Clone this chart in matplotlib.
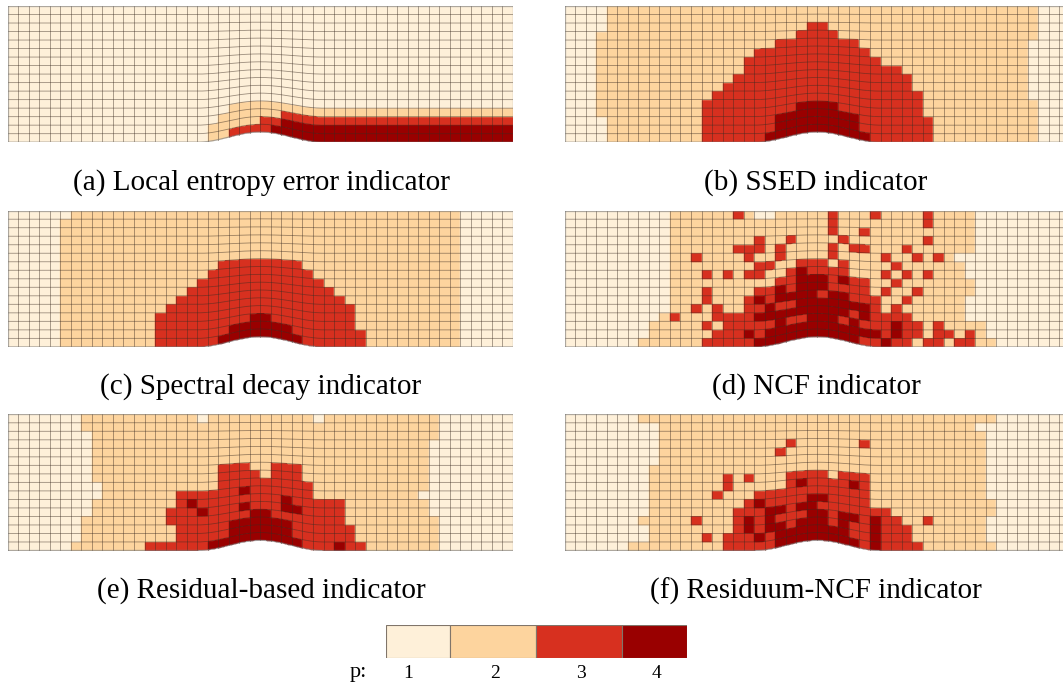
import numpy as np
import matplotlib
matplotlib.use('Agg')
import matplotlib.pyplot as plt
from matplotlib.colors import ListedColormap, BoundaryNorm

W, H = 1063, 688

# polynomial degree per cell, row 0 is the top of the channel
panel_a = [
    "111111 111111 111111 111111 111111 111111 111111 111111",
    "111111 111111 111111 111111 111111 111111 111111 111111",
    "111111 111111 111111 111111 111111 111111 111111 111111",
    "111111 111111 111111 111111 111111 111111 111111 111111",
    "111111 111111 111111 111111 111111 111111 111111 111111",
    "111111 111111 111111 111111 111111 111111 111111 111111",
    "111111 111111 111111 111111 111111 111111 111111 111111",
    "111111 111111 111111 111111 111111 111111 111111 111111",
    "111111 111111 111111 111111 111111 111111 111111 111111",
    "111111 111111 111111 111111 111111 111111 111111 111111",
    "111111 111111 111111 111111 111111 111111 111111 111111",
    "111111 111111 111111 111111 111111 111111 111111 111111",
    "111111 111111 111111 111222 222222 222222 222222 222222",
    "111111 111111 111111 112222 223333 333333 333333 333333",
    "111111 111111 111111 122222 334444 444444 444444 444444",
    "111111 111111 111111 122333 344444 444444 444444 444444",
]
panel_b = [
    "111122 222222 222222 222222 222222 222222 222222 222111",
    "111122 222222 222222 222222 222222 222222 222222 222111",
    "111122 222222 222222 222223 322222 222222 222222 222111",
    "111222 222222 222222 222233 332222 222222 222222 222111",
    "111222 222222 222222 223333 333322 222222 222222 221111",
    "111222 222222 222222 333333 333332 222222 222222 221111",
    "111222 222222 222223 333333 333333 222222 222222 221111",
    "111222 222222 222223 333333 333333 332222 222222 221111",
    "111222 222222 222233 333333 333333 333222 222222 221111",
    "111222 222222 222333 333333 333333 333222 222222 221111",
    "111222 222222 223333 333333 333333 333322 222222 221111",
    "111222 222222 233333 333333 333333 333322 222222 222111",
    "111222 222222 233333 333344 443333 333322 222222 222111",
    "111122 222222 233333 334444 444433 333332 222222 222111",
    "111122 222222 233333 334444 444433 333332 222222 222111",
    "111122 222222 233333 344444 444443 333332 222222 222111",
]
panel_c = [
    "111111 222222 222222 222222 222222 222222 222222 211111",
    "111112 222222 222222 222222 222222 222222 222222 211111",
    "111112 222222 222222 222222 222222 222222 222222 211111",
    "111112 222222 222222 222222 222222 222222 222222 211111",
    "111112 222222 222222 222222 222222 222222 222222 211111",
    "111112 222222 222222 222222 222222 222222 222222 211111",
    "111112 222222 222222 223333 333322 222222 222222 211111",
    "111112 222222 222222 233333 333332 222222 222222 211111",
    "111112 222222 222222 333333 333333 222222 222222 211111",
    "111112 222222 222223 333333 333333 322222 222222 211111",
    "111112 222222 222233 333333 333333 332222 222222 211111",
    "111112 222222 222333 333333 333333 333222 222222 211111",
    "111112 222222 223333 333333 333333 333222 222222 211111",
    "111112 222222 223333 333334 433333 333222 222222 211111",
    "111112 222222 223333 333444 444333 333322 222222 211111",
    "111112 222222 223333 334444 444433 333322 222222 211111",
]
panel_d = [
    "111111 111122 222232 112222 232223 222232 222111 111111",
    "111111 111122 222222 222222 232222 222232 222111 111111",
    "111111 111122 222222 222222 232232 222222 222111 111111",
    "111111 111122 222222 322322 223222 222232 222111 111111",
    "111111 111122 222233 323222 232332 223222 222111 111111",
    "111111 111122 322223 223222 232222 322323 211111 111111",
    "111111 111122 222222 332233 323222 232222 221111 111111",
    "111111 111122 232323 322343 333222 323232 221111 111111",
    "111111 111122 222222 223344 434332 232222 222111 111111",
    "111111 111122 232222 334344 433332 322322 222111 111111",
    "111111 111122 232223 434444 344333 223222 221111 111111",
    "111111 111122 323223 343344 444443 232222 221111 111111",
    "111111 111232 223333 444444 444343 333222 221111 111111",
    "111111 112222 232333 334334 443433 343323 222211 111111",
    "111111 112222 223334 344444 444444 343323 323211 111111",
    "111111 122222 233333 444444 444433 433233 233221 111111",
]
panel_e = [
    "111111 122222 222222 122222 222221 222222 222221 111111",
    "111111 122222 222222 222222 222222 222222 222221 111111",
    "111111 112222 222222 222222 222222 222222 222221 111111",
    "111111 112222 222222 222222 222222 222222 222211 111111",
    "111111 112222 222222 222222 222222 222222 222211 111111",
    "111111 112222 222222 222222 222222 222222 222211 111111",
    "111111 112222 222222 223332 233322 222222 222211 111111",
    "111111 112222 222222 223333 233322 222222 222211 111111",
    "111111 111222 222222 223333 333332 222222 222211 111111",
    "111111 111222 222233 333343 333332 222222 222111 111111",
    "111111 112222 222234 333333 334333 332222 222211 111111",
    "111111 112222 222333 433343 334433 332222 222211 111111",
    "111111 122222 222333 333334 433333 332222 222221 111111",
    "111111 122222 222233 333444 444333 333222 222221 111111",
    "111111 122222 222233 333444 444333 333222 222221 111111",
    "111111 222222 233333 344444 444433 343322 222221 111111",
]
panel_f = [
    "111111 122222 222222 222222 222222 222222 222221 111111",
    "111111 111222 222222 222222 222222 222222 222111 111111",
    "111111 111222 222222 222222 222222 222222 222211 111111",
    "111111 111222 222222 222322 222232 222222 222211 111111",
    "111111 111222 222222 223222 222222 222222 222211 111111",
    "111111 111222 222222 222222 222222 222222 222211 111111",
    "111111 112222 222222 222222 222222 222222 222211 111111",
    "111111 112222 222323 222333 323332 222222 222211 111111",
    "111111 112222 222322 222343 333432 222222 222211 111111",
    "111111 112222 223222 333333 333332 222222 222211 111111",
    "111111 112222 222223 433334 433332 222222 222221 111111",
    "111111 112222 222233 344344 333333 322222 222221 111111",
    "111111 122222 322234 343334 434434 332232 222211 111111",
    "111111 112222 222234 344344 434334 333222 222211 111111",
    "111111 112222 232333 434444 444334 333222 222211 111111",
    "111111 222222 222333 334444 444434 333322 222221 111111",
]

captions = ['(a) Local entropy error indicator', '(b) SSED indicator',
            '(c) Spectral decay indicator', '(d) NCF indicator',
            '(e) Residual-based indicator', '(f) Residuum-NCF indicator']
levels = [1, 2, 3, 4]
colors = ['#fef0d9', '#fdd49e', '#d7301f', '#990000']
key_edges = [386, 450.3, 536.3, 622.3, 687]

cmap = ListedColormap(colors)
norm = BoundaryNorm([0.5, 1.5, 2.5, 3.5, 4.5], 4)


def parse(rows):
    return np.array([[int(ch) for ch in r.replace(' ', '')] for r in rows])


def px_axes(fig, x0, y0, x1, y1):
    # pixel box measured from the top left corner of the picture
    ax = fig.add_axes([x0 / W, 1 - y1 / H, (x1 - x0) / W, (y1 - y0) / H])
    ax.axis('off')
    return ax


def draw_mesh(ax, grid):
    nrows, ncols = grid.shape
    sub = 6
    xf = np.linspace(0, ncols, ncols * sub + 1)
    eta = np.linspace(0, 1, nrows + 1)
    # smooth bump on the lower wall, fading towards the top
    bump = 1.2 * np.where(np.abs(xf - 24) < 6, np.cos(np.pi * (xf - 24) / 12) ** 2, 0)
    X, E = np.meshgrid(xf, eta)
    Y = nrows * E + bump * (1 - E) ** 1.2
    C = np.repeat(grid[::-1], sub, axis=1)
    ax.pcolormesh(X, Y, C, cmap=cmap, norm=norm, edgecolors='face', linewidth=0.3,
                  antialiased=True)
    line = dict(color='#3a2a20', lw=0.6, alpha=0.5)
    for j in range(1, nrows):
        ax.plot(xf, Y[j], **line)
    for i in range(1, ncols):
        ax.plot(X[:, i * sub], Y[:, i * sub], **line)
    frame = dict(color='#777777', lw=0.9, alpha=0.6)
    ax.plot(xf, Y[0], **frame)
    ax.plot(xf, Y[-1], **frame)
    ax.plot([0, 0], [Y[0, 0], Y[-1, 0]], **frame)
    ax.plot([ncols, ncols], [Y[0, -1], Y[-1, -1]], **frame)
    ax.set_xlim(0, ncols)
    ax.set_ylim(0, nrows)


fig = plt.figure(figsize=(W / 100, H / 100), dpi=100)
plt.rcParams['font.family'] = ['Liberation Serif', 'DejaVu Serif']

grids = [panel_a, panel_b, panel_c, panel_d, panel_e, panel_f]
lefts = [7.7, 564.7]
tops = [6.0, 210.7, 414.3]
caption_x = [261, 816]
caption_y = [183, 387, 591]

for k, rows in enumerate(grids):
    col, row = k % 2, k // 2
    ax = px_axes(fig, lefts[col], tops[row], lefts[col] + 505.3, tops[row] + 136.2)
    draw_mesh(ax, parse(rows))
    fig.text(caption_x[col] / W, 1 - caption_y[row] / H, captions[k], fontsize=21,
             ha='center', va='center')

# discrete key below the panels
key = px_axes(fig, key_edges[0], 625, key_edges[-1], 657.7)
key.barh(0, np.diff(key_edges), left=key_edges[:-1], height=1, color=colors,
         edgecolor='#80756a', linewidth=0.8)
key.set_xlim(key_edges[0], key_edges[-1])
key.set_ylim(-0.5, 0.5)

label_x = [408, 495, 581, 656]
for lev, lx in zip(levels, label_x):
    fig.text(lx / W, 1 - 673 / H, str(lev), fontsize=14, ha='center', va='center')
fig.text(358 / W, 1 - 673 / H, 'p:', fontsize=16, ha='center', va='center')

fig.savefig('out.png', dpi=100)
